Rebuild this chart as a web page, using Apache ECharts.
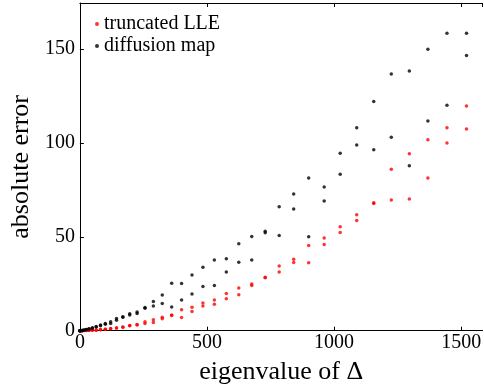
<!DOCTYPE html>
<html>
<head>
<meta charset="utf-8">
<script src="https://cdn.jsdelivr.net/npm/echarts@6/dist/echarts.min.js"></script>
<style>html,body{margin:0;padding:0;background:#fff}#c{width:484px;height:391px}</style>
</head>
<body>
<div id="c"></div>
<script>
// eigenvalues (x positions), each with two points per method
const eigenvalues = [0,1,4,9,16,25,36,49,64,81,100,121,144,169,196,225,256,289,324,361,400,441,484,529,576,625,676,729,784,841,900,961,1024,1089,1156,1225,1296,1369,1444,1521];
const diffusionA = [0,0.02,0.05,0.15,0.35,0.65,1.0,1.5,2.2,3.0,3.8,4.7,6.5,7.4,9.0,10.0,12.3,15.5,19.0,25.3,25.2,29.7,33.8,37.7,38.3,46.3,50.2,52.9,66.0,72.8,81.3,76.5,94.5,108.1,122.0,136.7,138.3,149.9,158.4,158.4];
const diffusionB = [0,0.02,0.05,0.12,0.3,0.6,0.95,1.4,2.0,2.7,3.5,3.9,5.5,7.1,8.3,9.1,11.9,13.2,14.5,12.6,16.3,19.6,23.6,24.1,31.3,36.5,37.7,52.2,50.7,64.8,50.0,69.0,83.3,98.9,96.4,103.0,87.9,111.7,120.0,146.5];
const lleA = [0,0.01,0.02,0.04,0.07,0.12,0.18,0.25,0.35,0.6,0.8,1.2,1.5,2.0,2.8,3.3,4.7,5.8,7.2,8.3,11.1,12.5,14.8,16.3,19.8,22.7,24.9,28.4,34.4,38.1,45.4,49.3,55.3,61.7,68.1,86.0,94.2,101.7,108.1,119.7];
const lleB = [0,0.01,0.02,0.03,0.06,0.1,0.16,0.22,0.3,0.5,0.75,1.1,1.4,1.9,2.6,3.1,3.8,4.4,6.3,8.1,7.0,10.2,13.2,14.1,17.0,19.1,24.1,28.2,31.2,36.3,36.2,45.9,52.3,58.7,67.8,69.6,70.1,81.3,99.9,107.4];
const xTicks = [0,500,1000,1500];
const yTicks = [0,50,100,150];

function pairs(xs, a, b){
  const out = [];
  xs.forEach((x,i)=>{ out.push([x,a[i]]); out.push([x,b[i]]); });
  return out;
}

const FONT = 'Liberation Serif';
const chart = echarts.init(document.getElementById('c'), null, {renderer:'canvas'});
const axisCommon = {
  axisLine:{show:true, onZero:false, lineStyle:{color:'#000', width:1}},
  axisTick:{show:true, inside:true, length:4, lineStyle:{color:'#000', width:1}},
  splitLine:{show:false}
};
chart.setOption({
  animation:false,
  backgroundColor:'#fff',
  grid:{left:76.3, top:3, right:0, bottom:60.3, containLabel:false},
  legend:{
    orient:'vertical', left:90, top:9, itemGap:2,
    itemWidth:4, itemHeight:4, icon:'circle',
    textStyle:{fontFamily:FONT, fontSize:20, color:'#000'},
    data:['truncated LLE','diffusion map']
  },
  xAxis:[
    Object.assign({}, axisCommon, {
      type:'value', min:0, max:1584, interval:500, position:'bottom',
      name:'eigenvalue of Δ', nameLocation:'middle', nameGap:28,
      nameTextStyle:{fontFamily:FONT, fontSize:26, color:'#000'},
      axisLabel:{fontFamily:FONT, fontSize:20, color:'#000', margin:2, showMaxLabel:false,
        formatter:v=> xTicks.includes(v) ? String(v) : ''}
    }),
    Object.assign({}, axisCommon, {
      type:'value', min:0, max:1584, interval:500, position:'top',
      axisLabel:{show:false}
    })
  ],
  yAxis:[
    Object.assign({}, axisCommon, {
      type:'value', min:0, max:174.5, interval:50, position:'left',
      name:'absolute error', nameLocation:'middle', nameGap:38,
      nameTextStyle:{fontFamily:FONT, fontSize:26, color:'#000'},
      axisLabel:{fontFamily:FONT, fontSize:20, color:'#000', margin:5, showMaxLabel:false,
        formatter:v=> yTicks.includes(v) ? String(v) : ''}
    })
  ],
  series:[
    {name:'truncated LLE', type:'scatter', symbol:'circle', symbolSize:3.5,
     itemStyle:{color:'#ff0000'}, data:pairs(eigenvalues, lleA, lleB)},
    {name:'diffusion map', type:'scatter', symbol:'circle', symbolSize:3.5,
     itemStyle:{color:'#000000'}, data:pairs(eigenvalues, diffusionA, diffusionB)}
  ]
});
</script>
</body>
</html>
